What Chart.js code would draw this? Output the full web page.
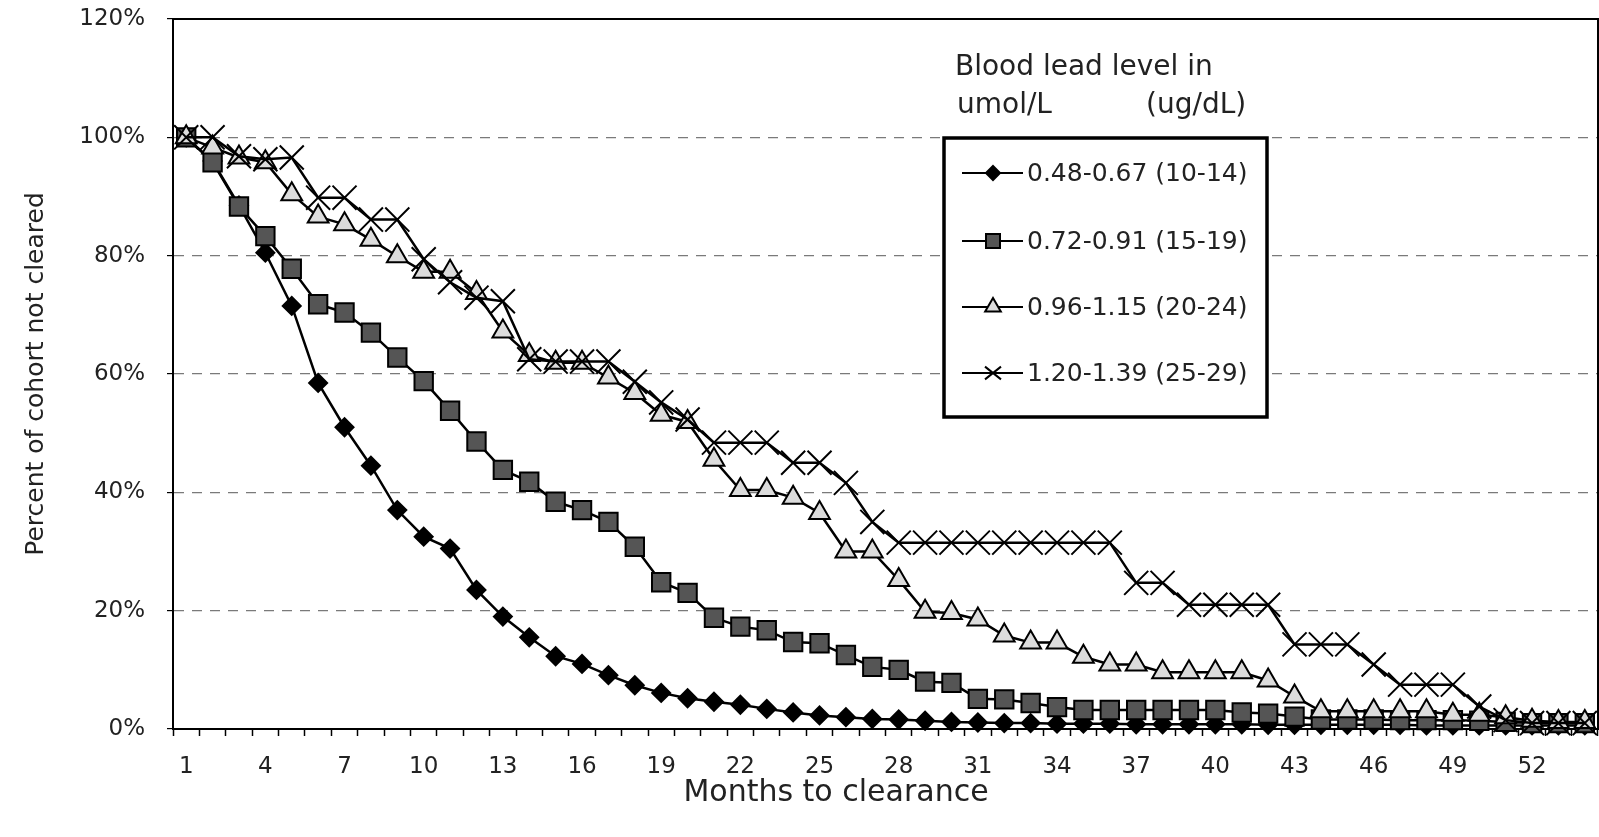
<!DOCTYPE html>
<html>
<head>
<meta charset="utf-8">
<style>
  html, body { margin: 0; padding: 0; background: #fff; }
  canvas { display: block; }
</style>
</head>
<body>
<canvas id="chart" width="1599" height="837"></canvas>
<script src="https://cdn.jsdelivr.net/npm/chart.js@4.4.0/dist/chart.umd.min.js"></script>
<script>
// months since start of follow-up (category axis)
const months = [1, 2, 3, 4, 5, 6, 7, 8, 9, 10, 11, 12, 13, 14, 15, 16, 17, 18, 19, 20,
  21, 22, 23, 24, 25, 26, 27, 28, 29, 30, 31, 32, 33, 34, 35, 36, 37, 38, 39, 40,
  41, 42, 43, 44, 45, 46, 47, 48, 49, 50, 51, 52, 53, 54];
const xTickLabels = [1, 4, 7, 10, 13, 16, 19, 22, 25, 28, 31, 34, 37, 40, 43, 46, 49, 52];
const yTicks = [0, 20, 40, 60, 80, 100, 120];

// percent of cohort not cleared
const lead1014 = [100, 96, 88.5, 80.5, 71.5, 58.5, 51, 44.5, 37, 32.5,
  30.5, 23.5, 19, 15.5, 12.3, 11, 9.1, 7.4, 6.1, 5.2,
  4.6, 4.1, 3.4, 2.8, 2.3, 2.0, 1.7, 1.6, 1.4, 1.2,
  1.1, 1.0, 1.0, 0.9, 0.9, 0.9, 0.8, 0.8, 0.8, 0.8,
  0.8, 0.7, 0.7, 0.7, 0.7, 0.7, 0.7, 0.6, 0.6, 0.6,
  0.6, 0.6, 0.6, 0.6];
const lead1519 = [100, 95.8, 88.3, 83.3, 77.8, 71.8, 70.4, 67, 62.8, 58.8,
  53.8, 48.6, 43.8, 41.8, 38.4, 37, 35, 30.8, 24.8, 23,
  18.8, 17.3, 16.7, 14.7, 14.5, 12.5, 10.5, 10, 8, 7.8,
  5.1, 5.0, 4.4, 3.7, 3.2, 3.2, 3.2, 3.2, 3.2, 3.2,
  2.8, 2.6, 2.1, 1.6, 1.6, 1.6, 1.5, 1.5, 1.5, 1.4,
  1.2, 1.0, 1.0, 1.0];
const lead2024 = [100, 98.3, 96.6, 95.8, 90.4, 86.6, 85.3, 82.7, 79.9, 77.3,
  77.3, 73.7, 67.2, 63.2, 61.9, 61.9, 59.4, 56.8, 53.1, 51.9,
  45.5, 40.4, 40.4, 39.1, 36.5, 30, 30, 25.2, 19.8, 19.6,
  18.5, 15.8, 14.6, 14.6, 12.2, 10.9, 10.9, 9.6, 9.6, 9.6,
  9.6, 8.2, 5.5, 3.0, 3.0, 3.0, 3.0, 3.0, 2.4, 2.4,
  2.0, 1.4, 1.2, 1.2];
const lead2529 = [100, 100, 96.8, 96.3, 96.6, 89.8, 89.8, 86.1, 86.1, 79.4,
  75.5, 72.9, 72.3, 62.5, 62.1, 62.1, 62.1, 58.7, 55.2, 52.3,
  48.4, 48.4, 48.4, 45, 45, 41.6, 35, 31.5, 31.5, 31.5,
  31.5, 31.5, 31.5, 31.5, 31.5, 31.5, 24.7, 24.7, 21, 21,
  21, 21, 14.3, 14.3, 14.3, 10.9, 7.5, 7.5, 7.5, 3.8,
  1.5, 1.0, 1.0, 1.0];

const seriesLabels = ['0.48-0.67 (10-14)', '0.72-0.91 (15-19)', '0.96-1.15 (20-24)', '1.20-1.39 (25-29)'];
const legendTitle = ['Blood lead level in', 'umol/L', '(ug/dL)'];
const xTitle = 'Months to clearance';
const yTitle = 'Percent of cohort not cleared';

const FONT = 'DejaVu Sans';

function series(label, data, style, radius, fill, order) {
  return {
    label: label,
    data: data,
    borderColor: '#000',
    borderWidth: 2.5,
    backgroundColor: fill,
    pointStyle: style,
    pointRadius: radius,
    pointHoverRadius: radius,
    pointBackgroundColor: fill,
    pointBorderColor: '#000',
    pointBorderWidth: 2,
    tension: 0,
    clip: false,
    order: order
  };
}

// small marker painter for the legend box
function marker(ctx, style, x, y, r, fill) {
  ctx.save();
  ctx.fillStyle = fill;
  ctx.strokeStyle = '#000';
  ctx.lineWidth = 2;
  ctx.beginPath();
  if (style === 'rectRot') {
    ctx.moveTo(x, y - r); ctx.lineTo(x + r, y); ctx.lineTo(x, y + r); ctx.lineTo(x - r, y);
    ctx.closePath(); ctx.fill(); ctx.stroke();
  } else if (style === 'rect') {
    ctx.rect(x - r, y - r, 2 * r, 2 * r); ctx.fill(); ctx.stroke();
  } else if (style === 'triangle') {
    ctx.moveTo(x, y - r); ctx.lineTo(x + r * 0.87, y + r * 0.5); ctx.lineTo(x - r * 0.87, y + r * 0.5);
    ctx.closePath(); ctx.fill(); ctx.stroke();
  } else {
    ctx.moveTo(x - r, y - r * 0.8); ctx.lineTo(x + r, y + r * 0.8);
    ctx.moveTo(x + r, y - r * 0.8); ctx.lineTo(x - r, y + r * 0.8);
    ctx.stroke();
  }
  ctx.restore();
}

const framePlugin = {
  id: 'frame',
  beforeDatasetsDraw(chart) {
    const a = chart.chartArea, ctx = chart.ctx;
    ctx.save();
    ctx.strokeStyle = '#000';
    ctx.lineWidth = 2;
    ctx.strokeRect(a.left, a.top, a.right - a.left, a.bottom - a.top);
    ctx.restore();
  },
  afterDraw(chart) {
    const ctx = chart.ctx;
    ctx.save();
    // x axis title
    ctx.fillStyle = '#222';
    ctx.font = '30px "' + FONT + '"';
    ctx.textAlign = 'center';
    ctx.textBaseline = 'middle';
    ctx.fillText(xTitle, 836, 793);

    // legend title (outside the box)
    ctx.font = '28px "' + FONT + '"';
    ctx.textAlign = 'left';
    ctx.fillText(legendTitle[0], 955, 68);
    ctx.fillText(legendTitle[1], 957, 106);
    ctx.fillText(legendTitle[2], 1146, 106);

    // legend box
    const bx = 944, by = 138, bw = 323, bh = 279;
    ctx.fillStyle = '#fff';
    ctx.fillRect(bx, by, bw, bh);
    ctx.strokeStyle = '#000';
    ctx.lineWidth = 3.5;
    ctx.strokeRect(bx, by, bw, bh);

    const rows = [173, 241, 307, 373];
    const legendR = [7, 7, 9, 8];
    ctx.font = '25px "' + FONT + '"';
    chart.data.datasets.forEach(function (ds, i) {
      const y = rows[i];
      ctx.strokeStyle = '#000';
      ctx.lineWidth = 2;
      ctx.beginPath();
      ctx.moveTo(962, y);
      ctx.lineTo(1023, y);
      ctx.stroke();
      marker(ctx, ds.pointStyle, 993, y, legendR[i], ds.pointBackgroundColor);
      ctx.fillStyle = '#222';
      ctx.fillText(ds.label, 1027, y + 1);
    });
    ctx.restore();
  }
};

new Chart(document.getElementById('chart'), {
  type: 'line',
  data: {
    labels: months,
    datasets: [
      series(seriesLabels[0], lead1014, 'rectRot', 9, '#000', 4),
      series(seriesLabels[1], lead1519, 'rect', 13, '#555', 3),
      series(seriesLabels[2], lead2024, 'triangle', 12, '#dcdcdc', 2),
      series(seriesLabels[3], lead2529, 'crossRot', 17, '#000', 1)
    ]
  },
  options: {
    responsive: false,
    animation: false,
    devicePixelRatio: 1,
    // autoPadding would reserve room for the big markers; the frame goes to the edge
    layout: { autoPadding: false, padding: { top: 19, right: 1, left: 0, bottom: 0 } },
    plugins: {
      legend: { display: false },
      tooltip: { enabled: false },
      title: { display: false }
    },
    scales: {
      x: {
        type: 'category',
        offset: true,
        afterFit(s) {
          s.height = 108;
          s.paddingLeft = 0;
          s.paddingRight = 0;
        },
        grid: {
          display: true,
          drawOnChartArea: false,
          drawTicks: true,
          tickLength: 7,
          tickColor: '#000',
          tickWidth: 1.5,
          offset: true
        },
        border: { display: true, color: '#000', width: 2 },
        ticks: {
          autoSkip: false,
          maxRotation: 0,
          padding: 17,
          color: '#222',
          font: { family: FONT, size: 23 },
          callback: function (v, i) {
            return xTickLabels.indexOf(months[i]) >= 0 ? String(months[i]) : '';
          }
        }
      },
      y: {
        min: yTicks[0],
        max: yTicks[yTicks.length - 1],
        afterFit(s) {
          s.width = 173;
          s.paddingTop = 0;
          s.paddingBottom = 0;
        },
        afterBuildTicks(s) { s.ticks = yTicks.map(function (v) { return { value: v }; }); },
        grid: {
          color: function (c) {
            return (c.tick.value === 0 || c.tick.value === 120) ? 'rgba(0,0,0,0)' : '#7a7a7a';
          },
          lineWidth: 1.2,
          drawTicks: true,
          tickLength: 6,
          tickColor: '#000'
        },
        border: { display: true, color: '#000', width: 2, dash: [10, 8] },
        ticks: {
          padding: 22,
          color: '#222',
          font: { family: FONT, size: 23 },
          callback: function (v) { return v + '%'; }
        },
        title: {
          display: true,
          text: yTitle,
          color: '#222',
          font: { family: FONT, size: 25 },
          padding: { top: 21, bottom: 0 }
        }
      }
    }
  },
  plugins: [framePlugin]
});
</script>
</body>
</html>
